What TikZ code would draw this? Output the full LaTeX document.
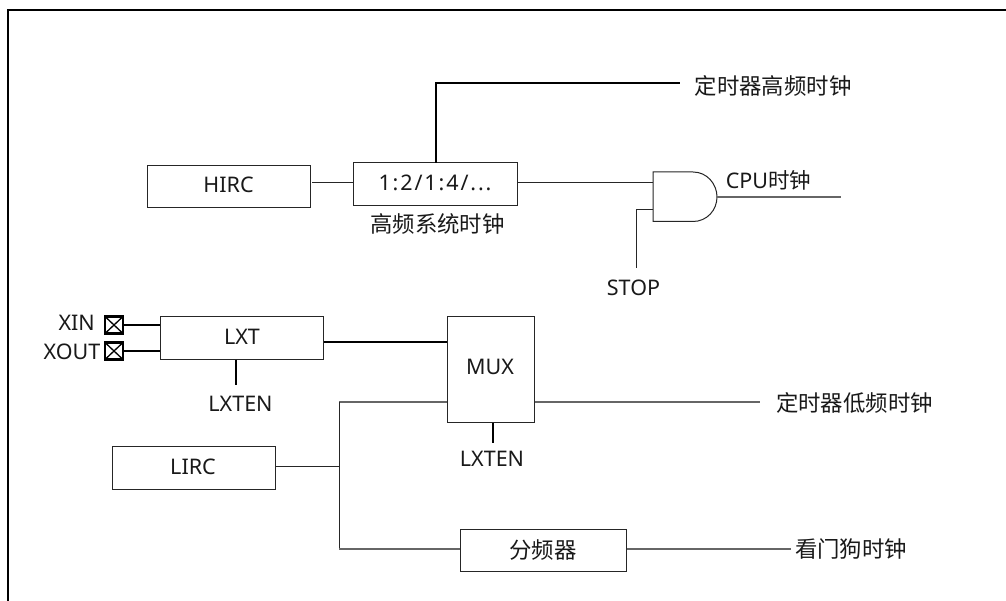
\documentclass[tikz,border=0pt]{standalone}
\usepackage{fontspec}
\setmainfont{Noto Sans}
\newfontfamily\cjk{Noto Sans CJK SC}
\newfontfamily\widelatin[LetterSpace=8.8]{Noto Sans}
\tikzset{
  x=1pt,y=-1pt,
  lbl/.style={inner sep=0pt,font=\fontsize{21.5}{25}\selectfont,text=black!90},
  cjklbl/.style={lbl,font=\fontsize{22.4}{26}\selectfont\cjk},
  block/.style={draw=black!85,line width=1pt,fill=white,inner sep=0pt},
  thinwire/.style={draw=black!85,line width=1pt},
  medwire/.style={draw=black,line width=1.5pt},
  grwire/.style={draw=black!60,line width=1.4pt},
  frameline/.style={draw=black,line width=2pt},
  pad/.style={draw=black,line width=2.2pt,fill=white,minimum width=18pt,minimum height=17pt,inner sep=0pt,
    path picture={\draw[black,line width=1.3pt] (path picture bounding box.north west) -- (path picture bounding box.south east)
      (path picture bounding box.north east) -- (path picture bounding box.south west);}},
}
\begin{document}
\begin{tikzpicture}
\useasboundingbox (0,0) rectangle (1006,601);
\coordinate (fa) at (8,601);
\coordinate (fb) at (8,9.7);
\coordinate (fc) at (1006,9.7);
\draw[frameline] (fa) -- (fb) -- (fc);

% top row
\node[block,minimum width=163pt,minimum height=42pt] (hirc) at (228.5,187) {};
\node[lbl] (hirct) at (228.5,185) {HIRC};
\node[block,minimum width=164pt,minimum height=43pt] (div) at (435,184.5) {};
\node[lbl] (divt) at (435,183) {\widelatin 1:2/1:4/...};
\node[cjklbl] (divl) at (437.5,224) {高频系统时钟};
\node[cjklbl] (thi) at (773,86) {定时器高频时钟};
\node[lbl] (cpu) at (768.5,180) {CPU{\cjk 时钟}};
\node[lbl] (stop) at (633.5,288) {STOP};

\coordinate (g1) at (653,172);
\coordinate (g2) at (693,172);
\coordinate (g3) at (693,221.5);
\coordinate (g4) at (653,221.5);
\coordinate (gin) at (653,183);
\coordinate (gst) at (653,210);
\coordinate (gout) at (717,197);
\draw[thinwire,fill=white] (g1) -- (g2) .. controls (707,172) and (717,184) .. (gout)
  .. controls (717,210) and (707,221.5) .. (g3) -- (g4) -- cycle;

\coordinate (hin) at (312,183);
\draw[thinwire] (hin) -- (div.west |- hin);
\draw[thinwire] (div.east |- gin) -- (gin);
\coordinate (thiend) at (680,83);
\draw[medwire] (436,163) -- (436,83) -- (thiend);
\coordinate (stopend) at (636,268);
\draw[thinwire] (stopend) |- (gst);
\coordinate (cpuend) at (841,197);
\draw[grwire] (gout) -- (cpuend);

% LXT
\node[block,minimum width=163pt,minimum height=42pt] (lxt) at (241.5,338) {};
\node[lbl] (lxtt) at (242,337) {LXT};
\node[pad] (xin) at (114,325) {};
\node[pad] (xout) at (114,351) {};
\node[lbl,anchor=east] (xint) at (95,323) {XIN};
\node[lbl,anchor=east] (xoutt) at (100.5,352) {XOUT};
\draw[medwire] (xin.east) -- (xin.east -| lxt.west);
\draw[medwire] (xout.east) -- (xout.east -| lxt.west);
\node[lbl] (lxten) at (240.5,404) {LXTEN};
\coordinate (lxe) at (236,385);
\draw[medwire] (lxe |- lxt.south) -- (lxe);

% MUX
\node[block,minimum width=87pt,minimum height=105pt] (mux) at (490.5,369.5) {};
\node[lbl] (muxt) at (490,367) {MUX};
\draw[medwire] (lxt.east |- 0,342) -- (mux.west |- 0,342);
\coordinate (mxe) at (493,443);
\draw[medwire] (mxe |- mux.south) -- (mxe);
\node[lbl] (lxten2) at (492,459) {LXTEN};
\coordinate (tloend) at (760,402);
\draw[grwire] (mux.east |- tloend) -- (tloend);
\node[cjklbl] (tlo) at (854.5,403) {定时器低频时钟};

% LIRC
\node[block,minimum width=163pt,minimum height=43pt] (lirc) at (193.5,467.5) {};
\node[lbl] (lirct) at (193,467) {LIRC};
\coordinate (jn) at (339,466);
\draw[thinwire] (lirc.east |- jn) -- (jn);
\node[block,minimum width=166pt,minimum height=42pt] (fp) at (543,550) {};
\node[cjklbl] (fpt) at (543,550) {分频器};
\draw[grwire] (mux.west |- 0,402) -- (339,402);
\draw[thinwire] (339,402) -- (339,549);
\draw[grwire] (339,549) -- (fp.west |- 0,549);
\coordinate (wdend) at (791,549);
\draw[grwire] (fp.east |- wdend) -- (wdend);
\node[cjklbl] (wd) at (851,549) {看门狗时钟};
\end{tikzpicture}
\end{document}
